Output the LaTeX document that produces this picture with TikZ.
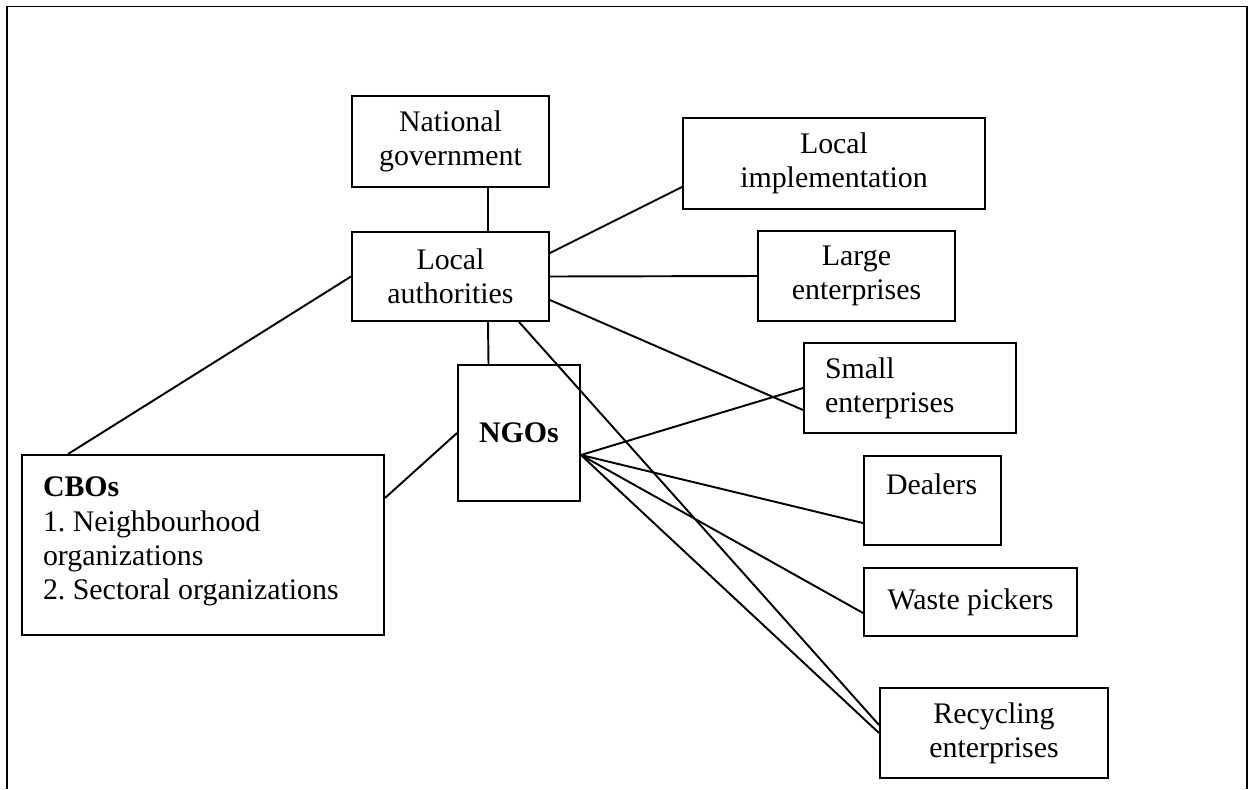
\documentclass[tikz,border=0pt]{standalone}
\usepackage{fontspec}
\setmainfont{Liberation Serif}
\frenchspacing

\begin{document}
\begin{tikzpicture}[line width=1.1pt, every node/.style={draw, rectangle, inner xsep=0.42cm, inner ysep=0.1cm, align=center, font=\fontsize{17}{19.5}\selectfont}]
\useasboundingbox (0,0) rectangle (24.98,-15.78);
\draw (0.14,-15.78) -- (0.14,-0.13) -- (24.94,-0.13) -- (24.94,-15.78);
\node[minimum width=3.94cm, minimum height=1.82cm] (NG) at (9.01,-2.83) {National\\government};
\node[minimum width=3.94cm, minimum height=1.78cm] (LA) at (9.01,-5.53) {Local\\authorities};
\node[minimum width=6.04cm, minimum height=1.82cm] (LI) at (16.68,-3.27) {Local\\implementation};
\node[minimum width=3.94cm, minimum height=1.80cm] (LE) at (17.13,-5.52) {Large\\enterprises};
\node[minimum width=2.44cm, minimum height=2.72cm] (NGO) at (10.38,-8.66) {\textbf{NGOs}};
\node[text width=3.4cm, align=left, minimum height=1.80cm] (SE) at (18.20,-7.76) {Small\\enterprises};
\node[inner xsep=0.44cm, inner ysep=0.36cm] (DL) at (18.65,-10.01) {\begin{minipage}[t][1.06cm][t]{1.86cm}\raggedright Dealers\end{minipage}};
\node[minimum width=4.26cm, minimum height=1.36cm] (WP) at (19.41,-12.04) {Waste pickers};
\node[minimum width=4.56cm, minimum height=1.80cm] (RE) at (19.88,-14.66) {Recycling\\enterprises};
\node[inner xsep=0.42cm, inner ysep=0.44cm] (CBO) at (4.06,-10.90) {\begin{minipage}[t][2.72cm][t]{6.4cm}\raggedright \textbf{CBOs}\\1. Neighbourhood\\organizations\\2. Sectoral organizations\end{minipage}};
\coordinate (F) at ([yshift=-0.44cm]NGO.east);
\draw ([xshift=0.75cm]NG.south) -- ([xshift=0.75cm]LA.north);
\draw ([yshift=0.47cm]LA.east) -- ([yshift=-0.47cm]LI.west);
\draw (LA.east) -- (LE.west);
\draw ([yshift=-0.47cm]LA.east) -- ([yshift=-0.44cm]SE.west);
\draw ([xshift=0.75cm]LA.south) -- ([xshift=-0.61cm]NGO.north);
\draw ([xshift=1.37cm]LA.south) -- ([yshift=0.16cm]RE.west);
\draw (LA.west) -- ([xshift=-2.7cm]CBO.north);
\draw ([yshift=0.94cm]CBO.east) -- (NGO.west);
\draw (F) -- (SE.west);
\draw (F) -- ([yshift=-0.45cm]DL.west);
\draw (F) -- ([yshift=-0.22cm]WP.west);
\draw (F) -- (RE.west);
\end{tikzpicture}
\end{document}
